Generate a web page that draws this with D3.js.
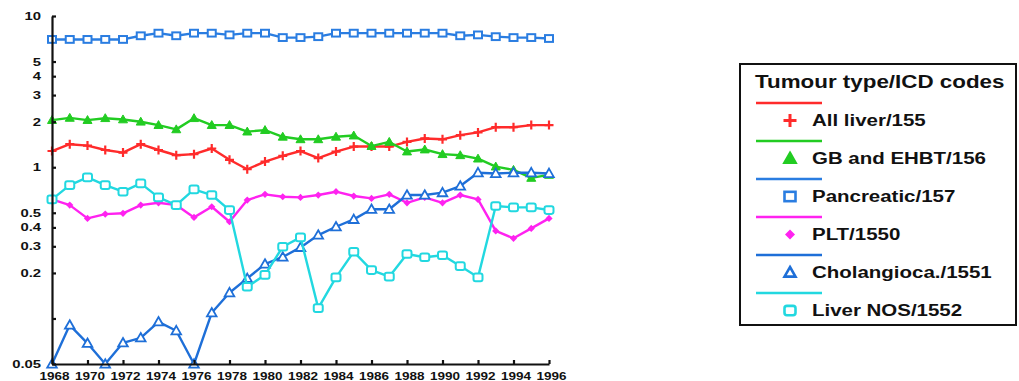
<!DOCTYPE html>
<html>
<head>
<meta charset="utf-8">
<script src="https://cdn.jsdelivr.net/npm/d3@7"></script>
<style>
  html, body { margin: 0; padding: 0; background: #fff; }
  svg { display: block; }
  text { font-family: "Liberation Sans", Arial, Helvetica, sans-serif; font-weight: bold; fill: #111; }
</style>
</head>
<body>
<svg id="chart" width="1019" height="381"></svg>
<script>
// Incidence by year, log scale
const years = [1968, 1969, 1970, 1971, 1972, 1973, 1974, 1975, 1976, 1977, 1978, 1979, 1980, 1981, 1982,
               1983, 1984, 1985, 1986, 1987, 1988, 1989, 1990, 1991, 1992, 1993, 1994, 1995, 1996];

const allLiver    = [1.28, 1.42, 1.39, 1.30, 1.25, 1.42, 1.30, 1.20, 1.22, 1.33, 1.12, 0.97, 1.09, 1.19, 1.28,
                     1.15, 1.27, 1.37, 1.37, 1.37, 1.47, 1.55, 1.53, 1.63, 1.70, 1.84, 1.84, 1.90, 1.90];
const gbEhbt      = [2.05, 2.12, 2.05, 2.11, 2.07, 2.00, 1.90, 1.78, 2.11, 1.90, 1.90, 1.72, 1.76, 1.59, 1.53,
                     1.53, 1.59, 1.62, 1.38, 1.47, 1.27, 1.31, 1.22, 1.20, 1.14, 1.01, 0.96, 0.85, 0.89];
const pancreatic  = [7.0, 7.0, 7.0, 7.0, 7.0, 7.4, 7.7, 7.4, 7.7, 7.7, 7.5, 7.7, 7.7, 7.2, 7.2,
                     7.3, 7.7, 7.7, 7.7, 7.7, 7.7, 7.7, 7.7, 7.4, 7.5, 7.3, 7.2, 7.2, 7.1];
const plt         = [0.613, 0.562, 0.459, 0.490, 0.496, 0.562, 0.582, 0.562, 0.466, 0.548, 0.436, 0.607, 0.662, 0.638, 0.632,
                     0.655, 0.689, 0.645, 0.622, 0.662, 0.582, 0.632, 0.582, 0.655, 0.613, 0.379, 0.339, 0.394, 0.459];
const cholangio   = [0.050, 0.0904, 0.0685, 0.050, 0.069, 0.0745, 0.095, 0.083, 0.050, 0.109, 0.148, 0.184, 0.229, 0.255, 0.295,
                     0.356, 0.404, 0.452, 0.527, 0.527, 0.655, 0.655, 0.679, 0.751, 0.92, 0.91, 0.92, 0.92, 0.91];
const liverNos    = [0.613, 0.762, 0.857, 0.762, 0.689, 0.782, 0.632, 0.562, 0.714, 0.655, 0.521, 0.162, 0.194, 0.298, 0.344,
                     0.117, 0.187, 0.276, 0.209, 0.189, 0.267, 0.254, 0.262, 0.222, 0.187, 0.554, 0.543, 0.543, 0.521];

const seriesNames = ["All liver/155", "GB and EHBT/156", "Pancreatic/157", "PLT/1550", "Cholangioca./1551", "Liver NOS/1552"];
const legendTitle = "Tumour type/ICD codes";

const yTickValues = [10, 5, 4, 3, 2, 1, 0.5, 0.4, 0.3, 0.2, 0.1, 0.05];
const yTickLabels = ["10", "5", "4", "3", "2", "1", "0.5", "0.4", "0.3", "0.2", "", "0.05"];
const xTickValues = [1968, 1970, 1972, 1974, 1976, 1978, 1980, 1982, 1984, 1986, 1988, 1990, 1992, 1994, 1996];

const series = [
  { name: seriesNames[0], values: allLiver,   color: "#ff2b2b", marker: "plus" },
  { name: seriesNames[1], values: gbEhbt,     color: "#22cc22", marker: "triFill" },
  { name: seriesNames[2], values: pancreatic, color: "#2a7de1", marker: "square" },
  { name: seriesNames[3], values: plt,        color: "#ff22f0", marker: "diamond" },
  { name: seriesNames[4], values: cholangio,  color: "#1e6fd8", marker: "triOpen" },
  { name: seriesNames[5], values: liverNos,   color: "#22d8e0", marker: "roundSquare" }
];

const svg = d3.select("#chart");

const x = d3.scaleLinear().domain([1968, 1996]).range([52, 549]);
const y = d3.scaleLog().domain([0.05, 10]).range([364, 16]);

// the lettering is drawn a little wider than the font's natural width
const axisStretch = 1.35;
const legendStretch = 1.28;

// draws one marker shape centred on the origin
function drawMarker(g, kind, color, s) {
  if (kind === "plus") {
    g.append("path").attr("d", `M${-s},0H${s}M0,${-s}V${s}`)
      .attr("stroke", color).attr("stroke-width", 2.2).attr("fill", "none");
  } else if (kind === "triFill") {
    g.append("path").attr("d", `M0,${-s}L${s},${s * 0.75}L${-s},${s * 0.75}Z`)
      .attr("fill", color).attr("stroke", color).attr("stroke-width", 1);
  } else if (kind === "triOpen") {
    g.append("path").attr("d", `M0,${-s}L${s},${s * 0.75}L${-s},${s * 0.75}Z`)
      .attr("fill", "#fff").attr("stroke", color).attr("stroke-width", 1.8);
  } else if (kind === "square") {
    g.append("rect").attr("x", -s).attr("y", -s * 0.85).attr("width", 2 * s).attr("height", 1.7 * s)
      .attr("fill", "#fff").attr("stroke", color).attr("stroke-width", 2);
  } else if (kind === "roundSquare") {
    g.append("rect").attr("x", -s).attr("y", -s * 0.85).attr("width", 2 * s).attr("height", 1.7 * s)
      .attr("rx", s * 0.45).attr("fill", "#fff").attr("stroke", color).attr("stroke-width", 2);
  } else if (kind === "diamond") {
    g.append("path").attr("d", `M0,${-s}L${s},0L0,${s}L${-s},0Z`).attr("fill", color);
  }
}

const markerSize = { plus: 4.5, triFill: 4.5, triOpen: 4.8, square: 4, roundSquare: 4.5, diamond: 3.6 };

// series lines and markers
const line = d3.line().x((d, i) => x(years[i])).y(d => y(d));
series.forEach(s => {
  const g = svg.append("g");
  g.append("path").datum(s.values).attr("d", line)
    .attr("fill", "none").attr("stroke", s.color).attr("stroke-width", 2.4).attr("stroke-linejoin", "round");
  s.values.forEach((v, i) => {
    const m = g.append("g").attr("transform", `translate(${x(years[i])},${y(v)})`);
    drawMarker(m, s.marker, s.color, markerSize[s.marker]);
  });
});

// axes
const yPad = 11;
const yAxis = d3.axisLeft(y).tickValues(yTickValues)
  .tickFormat((d, i) => yTickLabels[i]).tickSizeInner(-4).tickSizeOuter(0).tickPadding(yPad);
const yg = svg.append("g").attr("transform", "translate(52,0)").call(yAxis);
yg.select(".domain").attr("stroke", "#111").attr("stroke-width", 2.2);
yg.selectAll(".tick line").attr("stroke", "#111").attr("stroke-width", 2.2);
yg.selectAll(".tick text").attr("font-size", 11).attr("font-family", null).style("fill", "#111")
  .attr("x", -yPad / axisStretch).attr("transform", `scale(${axisStretch},1)`);

const xAxis = d3.axisBottom(x).tickValues(xTickValues).tickFormat(d3.format("d"))
  .tickSizeInner(-4).tickSizeOuter(0).tickPadding(8.5);
const xg = svg.append("g").attr("transform", "translate(0,364)").call(xAxis);
xg.select(".domain").attr("stroke", "#111").attr("stroke-width", 2.2);
xg.selectAll(".tick line").attr("stroke", "#111").attr("stroke-width", 2.2);
xg.selectAll(".tick text").attr("font-size", 10).attr("font-family", null).style("fill", "#111")
  .attr("x", 2 / axisStretch).attr("transform", `scale(${axisStretch},1)`);

// legend
const lg = svg.append("g");
lg.append("rect").attr("x", 740).attr("y", 64).attr("width", 276).attr("height", 261)
  .attr("fill", "#fff").attr("stroke", "#111").attr("stroke-width", 2);
lg.append("text").attr("x", 755 / legendStretch).attr("y", 88).attr("transform", `scale(${legendStretch},1)`)
  .attr("font-size", 17.5).text(legendTitle);

series.forEach((s, i) => {
  const ly = 103 + i * 38;
  lg.append("line").attr("x1", 756).attr("x2", 822).attr("y1", ly).attr("y2", ly)
    .attr("stroke", s.color).attr("stroke-width", 2.6);
  const m = lg.append("g").attr("transform", `translate(790,${ly + 17.5})`);
  drawMarker(m, s.marker, s.color, s.marker === "plus" ? 6.5 : s.marker === "diamond" ? 5 : 5.5);
  m.selectAll("rect,path").attr("stroke-width", s.marker === "plus" ? 3 : 2.6);
  lg.append("text").attr("x", 812 / legendStretch).attr("y", ly + 17.5).attr("dy", "0.36em")
    .attr("transform", `scale(${legendStretch},1)`).attr("font-size", 16).text(s.name);
});
</script>
</body>
</html>
